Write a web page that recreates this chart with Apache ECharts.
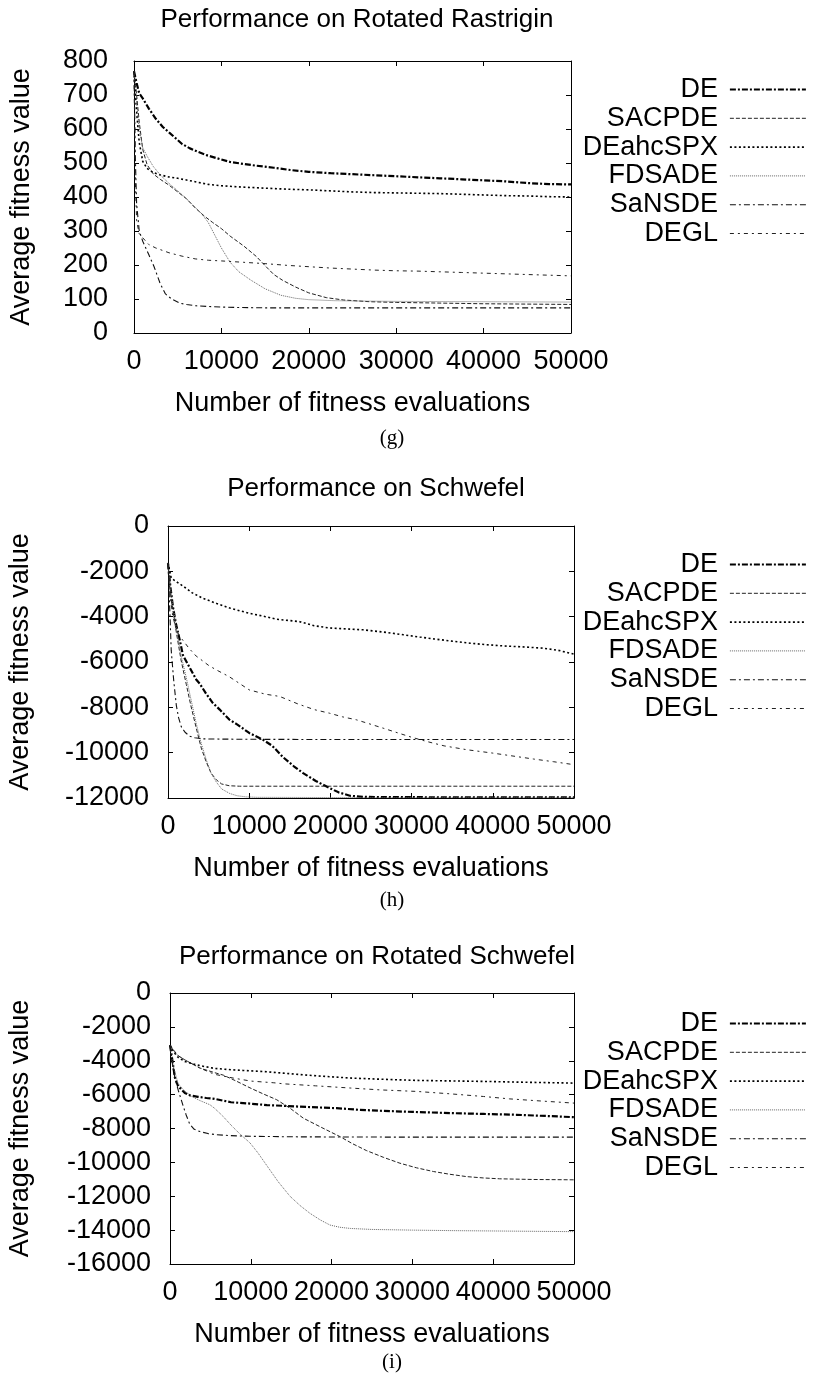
<!DOCTYPE html>
<html>
<head>
<meta charset="utf-8">
<script src="https://cdn.jsdelivr.net/npm/echarts@6/dist/echarts.min.js"></script>
<style>html,body{margin:0;padding:0;background:#fff;}#c{width:813px;height:1386px;}</style>
</head>
<body>
<div id="c"></div>
<script>
// ---------- data ----------
const seriesNames = ['DE', 'SACPDE', 'DEahcSPX', 'FDSADE', 'SaNSDE', 'DEGL'];
const panelTitles = ['Performance on Rotated Rastrigin', 'Performance on Schwefel', 'Performance on Rotated Schwefel'];
const captions = ['(g)', '(h)', '(i)'];
const xTickMin = 0, xTickMax = 50000, xTickStep = 10000;
const yRanges = [[0, 800, 100], [-12000, 0, 2000], [-16000, 0, 2000]];

// Panel (g): Rotated Rastrigin
const rasDE = [[0,770],[300,735],[600,705],[1000,690],[1700,660],[2500,630],[3300,606],[4000,590],[4800,572],[5500,556],[6400,543],[7300,533],[8300,523],[9500,514],[11000,503],[12600,497],[14000,492],[16000,486],[18000,479],[20000,474],[22500,470],[25000,467],[27500,464],[30000,461],[32500,458],[35000,455],[37500,452],[40000,449],[42500,446],[45000,441],[47500,438],[50000,437]];
const rasSACPDE = [[0,770],[300,700],[600,620],[1000,540],[1500,495],[2200,468],[3000,452],[4000,435],[5000,415],[6000,395],[7000,368],[8000,345],[9000,325],[10000,307],[11000,285],[12600,255],[14000,225],[15000,198],[16000,172],[17000,155],[18500,135],[20000,118],[22000,104],[24000,97],[27000,92],[30000,90],[35000,88],[40000,86],[45000,85],[50000,84]];
const rasDEahcSPX = [[0,770],[300,650],[600,560],[1000,505],[1500,484],[2200,472],[3000,465],[4000,459],[5000,455],[6000,450],[7000,445],[8500,437],[10000,433],[12500,429],[15000,426],[17500,423],[20000,421],[22500,418],[25000,415],[27500,413],[30000,412],[32500,411],[35000,410],[37500,408],[40000,406],[42500,404],[45000,403],[47500,401],[50000,400]];
const rasFDSADE = [[0,770],[300,680],[600,600],[1000,545],[1500,520],[2200,490],[3000,465],[4000,440],[5000,418],[6000,395],[7000,370],[7700,352],[8500,325],[9300,285],[10000,250],[11000,208],[12000,180],[13400,155],[15000,130],[16800,111],[18500,102],[20000,98],[23000,95],[26000,94],[30000,93],[40000,92],[50000,91]];
const rasSaNSDE = [[0,770],[150,520],[300,380],[600,300],[1000,270],[1700,230],[2300,195],[3000,145],[3600,115],[4300,100],[5200,88],[6000,84],[7100,80],[8500,78],[10400,76],[12000,75],[15000,74],[20000,74],[30000,74],[40000,74],[50000,74]];
const rasDEGL = [[0,770],[150,450],[300,330],[600,292],[1000,280],[1700,260],[2500,250],[4000,236],[5500,226],[7000,218],[8500,214],[10000,212],[12500,208],[15000,204],[17500,199],[20000,195],[22500,191],[25000,188],[27500,185],[30000,183],[32500,182],[35000,180],[37500,178],[40000,176],[42500,174],[45000,172],[47500,170],[50000,168]];

// Panel (h): Schwefel
const schDE = [[0,-1650],[300,-2700],[600,-3550],[1000,-4350],[1440,-5020],[1840,-5700],[2670,-6250],[3470,-6770],[3900,-6950],[4700,-7400],[5500,-7800],[6370,-8100],[7550,-8540],[8500,-8750],[10000,-9130],[11700,-9430],[12850,-9700],[14170,-10200],[15500,-10600],[16640,-10900],[18200,-11250],[19900,-11560],[21000,-11750],[22400,-11900],[24000,-11950],[26500,-11960],[30000,-11965],[40000,-11970],[50000,-11970]];
const schSACPDE = [[0,-1650],[400,-3200],[1030,-4700],[1600,-5900],[2260,-7000],[2800,-7900],[3470,-8900],[4100,-9800],[4700,-10400],[5300,-10900],[5960,-11200],[6600,-11380],[7550,-11460],[8800,-11480],[10000,-11480],[20000,-11480],[30000,-11480],[40000,-11480],[50000,-11480]];
const schDEahcSPX = [[0,-1620],[400,-2300],[1000,-2450],[1850,-2650],[3000,-2950],[4300,-3190],[6000,-3420],[7600,-3620],[10000,-3850],[12000,-4000],[13350,-4110],[16200,-4220],[18000,-4400],[19900,-4500],[22000,-4540],[24000,-4580],[27000,-4700],[29000,-4800],[31000,-4900],[32700,-4980],[35000,-5080],[37200,-5170],[39000,-5230],[41300,-5290],[44000,-5340],[46200,-5390],[48000,-5480],[50000,-5650]];
const schFDSADE = [[0,-1650],[400,-3000],[1030,-4500],[1600,-5700],[2260,-6700],[2800,-7600],[3470,-8700],[4100,-9600],[4700,-10300],[5300,-10900],[5960,-11300],[6600,-11600],[7600,-11800],[8500,-11900],[9600,-11950],[11000,-11970],[20000,-11980],[30000,-11980],[40000,-11980],[50000,-11980]];
const schSaNSDE = [[0,-1650],[200,-3500],[400,-5500],[700,-6800],[1020,-7900],[1300,-8450],[1630,-8850],[2100,-9100],[2650,-9270],[3300,-9340],[4280,-9390],[6000,-9400],[10000,-9410],[20000,-9420],[30000,-9420],[40000,-9420],[50000,-9420]];
const schDEGL = [[0,-1650],[300,-3200],[600,-4000],[1030,-4580],[1430,-4860],[1850,-5050],[2600,-5400],[3470,-5740],[3900,-5850],[5000,-6150],[5960,-6350],[7550,-6650],[10000,-7230],[12000,-7420],[13760,-7520],[16000,-7850],[18000,-8100],[19900,-8260],[21500,-8420],[23200,-8550],[25000,-8750],[26500,-8920],[28500,-9150],[30000,-9320],[31800,-9500],[34000,-9700],[36800,-9870],[40000,-10020],[42900,-10170],[45000,-10280],[47500,-10400],[50000,-10530]];

// Panel (i): Rotated Schwefel
const rsDE = [[0,-3080],[300,-4000],[610,-5000],[1000,-5500],[1840,-5900],[2500,-6050],[3470,-6130],[4500,-6200],[5500,-6250],[7550,-6450],[9900,-6530],[12000,-6620],[14000,-6660],[17000,-6730],[20600,-6800],[23500,-6900],[26400,-6960],[30000,-7020],[34650,-7090],[38800,-7140],[42900,-7190],[46500,-7260],[50000,-7330]];
const rsSACPDE = [[0,-3080],[500,-3400],[1000,-3700],[1840,-3950],[3700,-4430],[5500,-4700],[6600,-4850],[8200,-5200],[9900,-5600],[11500,-5950],[13200,-6300],[14850,-6800],[16500,-7390],[18800,-7950],[21000,-8470],[22600,-8900],[24300,-9300],[26400,-9700],[28460,-10050],[30500,-10320],[32600,-10540],[34600,-10700],[36700,-10840],[38800,-10920],[40800,-10970],[45000,-11010],[50000,-11030]];
const rsDEahcSPX = [[0,-3080],[500,-3500],[1000,-3800],[1840,-4050],[3700,-4290],[5500,-4450],[7550,-4530],[9000,-4570],[12000,-4650],[14000,-4730],[16000,-4810],[18150,-4890],[20000,-4950],[22300,-5020],[26000,-5090],[30500,-5160],[34600,-5190],[38800,-5220],[44000,-5270],[50000,-5320]];
const rsFDSADE = [[0,-3080],[400,-4300],[1000,-5350],[1840,-5800],[2650,-6100],[3700,-6350],[4950,-6600],[5500,-6800],[6500,-7250],[7550,-7800],[8600,-8300],[9900,-8850],[10900,-9450],[12000,-10200],[13400,-11150],[14850,-12000],[16100,-12550],[17300,-13000],[18600,-13400],[19800,-13700],[21000,-13830],[22300,-13900],[25000,-13960],[30000,-14000],[35000,-14030],[40000,-14050],[45000,-14070],[50000,-14090]];
const rsSaNSDE = [[0,-3080],[300,-4200],[600,-5000],[1020,-5740],[1650,-6700],[2000,-7200],[2450,-7750],[3000,-8050],[3700,-8180],[4700,-8300],[5800,-8370],[7500,-8420],[9900,-8460],[15000,-8490],[20000,-8500],[30000,-8510],[40000,-8510],[50000,-8510]];
const rsDEGL = [[0,-3080],[500,-3450],[1000,-3700],[1840,-3950],[3700,-4430],[5500,-4800],[7800,-5020],[10000,-5200],[12850,-5300],[14000,-5360],[18000,-5480],[22300,-5610],[26000,-5720],[30500,-5810],[34600,-5950],[38800,-6110],[42000,-6250],[46000,-6380],[50000,-6500]];

const panelData = [
  [rasDE, rasSACPDE, rasDEahcSPX, rasFDSADE, rasSaNSDE, rasDEGL],
  [schDE, schSACPDE, schDEahcSPX, schFDSADE, schSaNSDE, schDEGL],
  [rsDE, rsSACPDE, rsDEahcSPX, rsFDSADE, rsSaNSDE, rsDEGL]
];

// ---------- styles & layout ----------
const FONT = 'Liberation Sans';
const lineStyles = [
  {color: '#000', width: 2.2, type: [6, 2, 2, 2]},
  {color: '#222', width: 1, type: [4, 2]},
  {color: '#000', width: 1.6, type: [2, 2.5]},
  {color: '#666', width: 1, type: [1, 1]},
  {color: '#111', width: 1.1, type: [6, 3, 2, 3]},
  {color: '#222', width: 1, type: [4, 4, 2, 4]}
];
const grids = [
  {left: 133, top: 61, width: 438, height: 272},
  {left: 168, top: 526, width: 406, height: 272},
  {left: 170, top: 993, width: 404, height: 271}
];
const titleTop = [2, 471, 939];
const legendTop = [76, 551, 1010];
const yNameGap = [99, 134, 136];
const xLabelMargin = [15, 15, 15];
const xNameGap = [57, 57, 57];
const captionY = [438, 900, 1362];
const yLabelMargin = [26, 19, 19];

const plainNum = v => String(v);

const option = {
  backgroundColor: '#fff',
  animation: false,
  title: grids.map((g, i) => ({
    text: panelTitles[i], left: g.left + g.width / 2, top: titleTop[i], textAlign: 'center',
    textStyle: {fontFamily: FONT, fontSize: 26, fontWeight: 'normal', color: '#000'}
  })),
  grid: grids.map(g => Object.assign({containLabel: false, show: false}, g)),
  legend: grids.map((g, i) => ({
    orient: 'vertical', align: 'right', right: 6, top: legendTop[i], padding: 0,
    itemWidth: 76, itemHeight: 14, itemGap: 1.8, selectedMode: false,
    data: seriesNames,
    itemStyle: {opacity: 0},
    lineStyle: {width: 'inherit'},
    textStyle: {fontFamily: FONT, fontSize: 27, color: '#000', lineHeight: 26, padding: [0, 7, 0, 0]}
  })),
  xAxis: [],
  yAxis: [],
  series: [],
  graphic: captions.map((c, i) => ({
    type: 'text', x: 392, y: captionY[i],
    style: {text: c, font: '21px "Liberation Serif"', fill: '#000', textAlign: 'center', textVerticalAlign: 'middle'}
  }))
};

grids.forEach((g, i) => {
  const [ymin, ymax, ystep] = yRanges[i];
  option.xAxis.push({
    type: 'value', gridIndex: i, position: 'bottom', min: xTickMin, max: xTickMax, interval: xTickStep,
    name: 'Number of fitness evaluations', nameLocation: 'middle', nameGap: xNameGap[i],
    nameTextStyle: {fontFamily: FONT, fontSize: 27, color: '#000'},
    axisLine: {show: true, onZero: false, lineStyle: {color: '#000', width: 1}},
    axisTick: {show: true, inside: true, length: 5, lineStyle: {color: '#000'}},
    axisLabel: {fontFamily: FONT, fontSize: 27, color: '#000', margin: xLabelMargin[i], showMinLabel: true, showMaxLabel: true, formatter: plainNum, hideOverlap: false},
    splitLine: {show: false}
  });
  option.xAxis.push({
    type: 'value', gridIndex: i, position: 'top', min: xTickMin, max: xTickMax, interval: xTickStep,
    axisLine: {show: true, onZero: false, lineStyle: {color: '#000', width: 1}},
    axisTick: {show: true, inside: true, length: 5, lineStyle: {color: '#000'}},
    axisLabel: {show: false}, splitLine: {show: false}
  });
  option.yAxis.push({
    type: 'value', gridIndex: i, position: 'left', min: ymin, max: ymax, interval: ystep,
    name: 'Average fitness value', nameLocation: 'middle', nameRotate: 90, nameGap: yNameGap[i],
    nameTextStyle: {fontFamily: FONT, fontSize: 27, color: '#000'},
    axisLine: {show: true, onZero: false, lineStyle: {color: '#000', width: 1}},
    axisTick: {show: true, inside: true, length: 5, lineStyle: {color: '#000'}},
    axisLabel: {fontFamily: FONT, fontSize: 27, color: '#000', margin: yLabelMargin[i], showMinLabel: true, showMaxLabel: true, formatter: plainNum},
    splitLine: {show: false}
  });
  option.yAxis.push({
    type: 'value', gridIndex: i, position: 'right', min: ymin, max: ymax, interval: ystep,
    axisLine: {show: true, onZero: false, lineStyle: {color: '#000', width: 1}},
    axisTick: {show: true, inside: true, length: 5, lineStyle: {color: '#000'}},
    axisLabel: {show: false}, splitLine: {show: false}
  });
  seriesNames.forEach((name, k) => {
    option.series.push({
      name: name, type: 'line', xAxisIndex: i * 2, yAxisIndex: i * 2,
      data: panelData[i][k], symbol: 'none', showSymbol: false, smooth: false,
      lineStyle: lineStyles[k], itemStyle: {color: lineStyles[k].color},
      emphasis: {disabled: true}, silent: true, z: 2
    });
  });
});

const chart = echarts.init(document.getElementById('c'), null, {renderer: 'canvas'});
chart.setOption(option);
</script>
</body>
</html>
